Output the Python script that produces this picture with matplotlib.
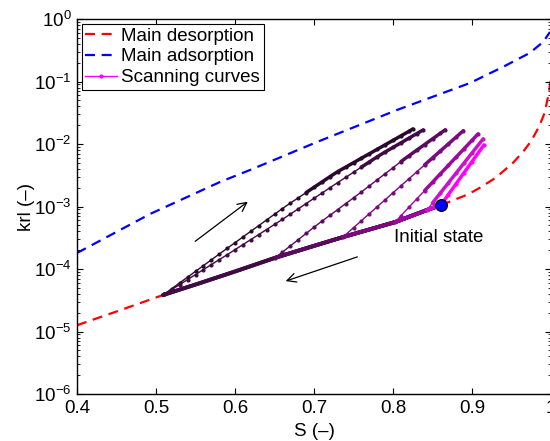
import numpy as np
import matplotlib
matplotlib.use('Agg')
import matplotlib.pyplot as plt
from matplotlib.ticker import LogLocator, NullFormatter

plt.rcParams['font.family'] = ['Liberation Sans', 'DejaVu Sans']
plt.rcParams['mathtext.fontset'] = 'custom'
plt.rcParams['mathtext.rm'] = 'Liberation Sans'
plt.rcParams['mathtext.it'] = 'Liberation Sans:italic'
plt.rcParams['mathtext.bf'] = 'Liberation Sans:bold'

# main desorption curve (S, log10 krl)
s_des = [0.400, 0.450, 0.509, 0.556, 0.600, 0.651, 0.700, 0.737, 0.803, 0.843, 0.861,
         0.875, 0.895, 0.910, 0.930, 0.952, 0.965, 0.975, 0.985, 0.992, 0.997, 1.000]
lk_des = [-4.90, -4.68, -4.416, -4.224, -4.04, -3.82, -3.63, -3.488, -3.248, -3.056, -2.976,
          -2.906, -2.806, -2.70, -2.54, -2.30, -2.12, -1.95, -1.72, -1.50, -1.20, -0.95]

# main adsorption curve
s_ads = [0.400, 0.4924, 0.581, 0.619, 0.7038, 0.805, 0.8975, 0.939, 0.973, 0.990, 0.9987]
lk_ads = [-3.744, -3.12, -2.608, -2.416, -1.968, -1.456, -1.024, -0.768, -0.544, -0.368, -0.208]

# wetting scanning curves, darkest (last) to brightest (first)
s_w1 = [0.51, 0.52, 0.53, 0.54, 0.55, 0.56, 0.57, 0.58, 0.59, 0.60, 0.61, 0.62, 0.63, 0.64,
        0.65, 0.66, 0.67, 0.68, 0.69, 0.70, 0.71, 0.72, 0.73, 0.74, 0.75, 0.76, 0.77, 0.78,
        0.79, 0.80, 0.81, 0.82, 0.825]
lk_w1 = [-4.406, -4.314, -4.222, -4.130, -4.038, -3.946, -3.854, -3.762, -3.670, -3.579,
         -3.488, -3.397, -3.306, -3.215, -3.124, -3.033, -2.946, -2.862, -2.777, -2.693,
         -2.609, -2.524, -2.442, -2.371, -2.299, -2.228, -2.156, -2.085, -2.013, -1.942,
         -1.870, -1.799, -1.760]
s_w2 = [0.51, 0.52, 0.53, 0.54, 0.55, 0.56, 0.57, 0.58, 0.59, 0.60, 0.61, 0.62, 0.63, 0.64,
        0.65, 0.66, 0.67, 0.68, 0.69, 0.70, 0.71, 0.72, 0.73, 0.74, 0.75, 0.76, 0.77, 0.78,
        0.79, 0.80, 0.81, 0.82, 0.83, 0.838]
lk_w2 = [-4.407, -4.328, -4.248, -4.169, -4.089, -4.010, -3.930, -3.851, -3.772, -3.691,
         -3.610, -3.530, -3.449, -3.368, -3.287, -3.206, -3.122, -3.038, -2.953, -2.869,
         -2.785, -2.701, -2.617, -2.535, -2.452, -2.370, -2.288, -2.205, -2.128, -2.055,
         -1.982, -1.908, -1.835, -1.776]
s_w3 = [0.651, 0.66, 0.67, 0.68, 0.69, 0.70, 0.71, 0.72, 0.73, 0.74, 0.75, 0.76, 0.77, 0.78,
        0.79, 0.80, 0.81, 0.82, 0.83, 0.84, 0.85, 0.86, 0.866]
lk_w3 = [-3.820, -3.730, -3.631, -3.531, -3.431, -3.331, -3.235, -3.142, -3.049, -2.955,
         -2.862, -2.767, -2.670, -2.573, -2.476, -2.379, -2.282, -2.190, -2.099, -2.009,
         -1.918, -1.828, -1.774]
s_w4 = [0.737, 0.75, 0.76, 0.77, 0.78, 0.79, 0.80, 0.81, 0.82, 0.83, 0.84, 0.85, 0.86,
        0.87, 0.88, 0.889]
lk_w4 = [-3.485, -3.339, -3.228, -3.116, -3.004, -2.893, -2.781, -2.669, -2.558, -2.446,
         -2.334, -2.223, -2.111, -2.000, -1.888, -1.787]
s_w5 = [0.803, 0.81, 0.82, 0.83, 0.84, 0.85, 0.86, 0.87, 0.88, 0.89, 0.90, 0.9076]
lk_w5 = [-3.248, -3.148, -3.014, -2.880, -2.746, -2.612, -2.477, -2.343, -2.209, -2.075,
         -1.942, -1.840]
s_w6 = [0.843, 0.85, 0.86, 0.87, 0.88, 0.89, 0.90, 0.914]
lk_w6 = [-3.056, -2.944, -2.784, -2.624, -2.464, -2.304, -2.144, -1.920]
s_w7 = [0.861, 0.87, 0.88, 0.89, 0.90, 0.915]
lk_w7 = [-2.972, -2.810, -2.634, -2.458, -2.282, -2.018]

s_wet = [s_w1, s_w2, s_w3, s_w4, s_w5, s_w6, s_w7]
lk_wet = [lk_w1, lk_w2, lk_w3, lk_w4, lk_w5, lk_w6, lk_w7]
thick_from = [0.69, 0.76, 0.81, 0.84, 0.84, 0.85, 0.86]
colors = ['#2a0a2a', '#420a44', '#5c0a5e', '#7a0a7d', '#9b0a9e', '#cc10cc', '#ff00ff']

s_init = 0.861
lk_init = -2.976

fig = plt.figure(figsize=(5.5, 4.41), dpi=100)
ax = fig.add_axes([77/550, 47/441, 474/550, 375/441])

ax.plot(s_des, 10**np.array(lk_des), '--', color='r', lw=1.6, dashes=(4.5, 3),
        label='Main desorption', zorder=1)
ax.plot(s_ads, 10**np.array(lk_ads), '--', color='b', lw=1.6, dashes=(4.5, 3),
        label='Main adsorption', zorder=1)

sd = np.array(s_des)
kd = 10**np.array(lk_des)
for i in range(len(s_wet)):
    sw = np.array(s_wet[i])
    kw = 10**np.array(lk_wet[i])
    c = colors[i]
    # drying path back to the reversal point (dense points -> thick)
    m = (sd >= sw[0] - 0.003) & (sd <= s_init + 1e-6)
    ax.plot(sd[m], kd[m], '-', color=c, lw=2.8, solid_capstyle='round', zorder=2 + i)
    # wetting branch with points
    lab = 'Scanning curves' if i == len(s_wet) - 1 else None
    ax.plot(sw, kw, '.-', color=c, lw=1.0, ms=4, label=lab, zorder=2 + i)
    t = sw >= thick_from[i]
    ax.plot(sw[t], kw[t], '-', color=c, lw=2.5, solid_capstyle='round', zorder=2 + i)

ax.plot([s_init], [10**lk_init], 'o', mfc='b', mec='k', mew=0.8, ms=8.5, zorder=20)

ax.annotate('', xy=(0.619, 10**-2.896), xytext=(0.5468, 10**-3.584),
            arrowprops=dict(arrowstyle='->', lw=0.9, color='k', mutation_scale=16))
ax.annotate('', xy=(0.6608, 10**-4.208), xytext=(0.7582, 10**-3.792),
            arrowprops=dict(arrowstyle='->', lw=0.9, color='k', mutation_scale=16))
ax.text(0.8013, 10**-3.50, 'Initial state', fontsize=13.5, ha='left', va='center')

ax.set_yscale('log')
ax.set_xlim(0.4, 1.0)
ax.set_ylim(1e-6, 1)
ax.set_xticks([0.4, 0.5, 0.6, 0.7, 0.8, 0.9, 1.0])
ax.set_xticklabels(['0.4', '0.5', '0.6', '0.7', '0.8', '0.9', '1'])
ax.yaxis.set_major_locator(LogLocator(base=10, numticks=10))
ax.yaxis.set_minor_locator(LogLocator(base=10, subs=np.arange(2, 10), numticks=10))
ax.yaxis.set_minor_formatter(NullFormatter())
ax.tick_params(which='both', direction='in', top=True, right=True, labelsize=13.5)
ax.tick_params(which='major', length=4.5, width=0.8, pad=4)
ax.tick_params(which='minor', length=2.5, width=0.6)
for sp in ax.spines.values():
    sp.set_linewidth(1.0)

ax.set_xlabel('S (–)', fontsize=13.5)
ax.set_ylabel('krl (–)', fontsize=13.5)
ax.xaxis.set_label_coords(0.5, -0.078)
ax.yaxis.set_label_coords(-0.089, 0.5)

leg = ax.legend(loc='upper left', fontsize=13.5, handlelength=1.7, handletextpad=0.2,
                labelspacing=0.2, borderpad=0.2, borderaxespad=0.25, fancybox=False,
                framealpha=1)
leg.get_frame().set_edgecolor('k')
leg.get_frame().set_linewidth(0.8)

fig.savefig('out.png', dpi=100)
